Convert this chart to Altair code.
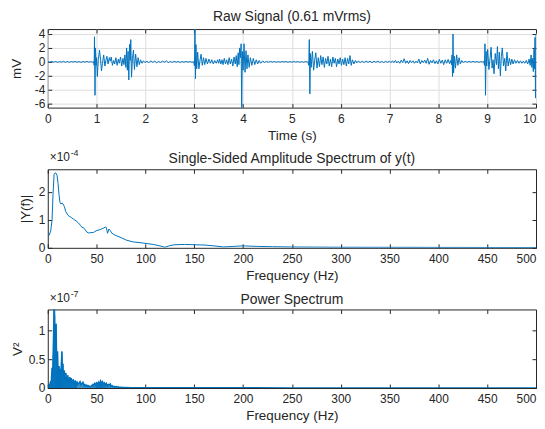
import altair as alt
import pandas as pd

BLUE = "#0072BD"
INK = "#262626"
GRID = "#dedede"
FONT = "Liberation Sans"
W = 491
H = 79

# ---------------- raw signal (time s, mV) ----------------
quiet_a = [(0.00, 0.04), (0.04, -0.05), (0.08, 0.06), (0.12, -0.03), (0.16, 0.05), (0.20, -0.06),
           (0.24, 0.03), (0.28, -0.04), (0.32, 0.07), (0.36, -0.05), (0.40, 0.04), (0.44, -0.06),
           (0.48, 0.05), (0.52, -0.03), (0.56, 0.06), (0.60, -0.05), (0.64, 0.04), (0.68, -0.07),
           (0.72, 0.05), (0.76, -0.04), (0.80, 0.06), (0.84, -0.05), (0.88, 0.03), (0.92, -0.04)]
burst_1 = [(0.94, 0.05), (0.95, -0.5), (0.957, 3.6), (0.967, -4.8), (0.977, 2.0), (0.99, -0.5),
           (1.0, 0.6), (1.015, -2.1), (1.035, 0.3), (1.06, 1.7), (1.08, 0.4), (1.1, -1.3),
           (1.12, -0.2), (1.145, 1.0), (1.17, -0.6), (1.19, 0.2), (1.21, 0.8), (1.235, -0.3),
           (1.26, 0.6), (1.28, 0.1), (1.3, 0.7), (1.325, -0.5), (1.35, 0.2), (1.37, -0.3),
           (1.395, 0.6), (1.42, -0.5), (1.445, 0.4), (1.465, -0.2), (1.49, 0.7), (1.515, -0.6),
           (1.54, 0.5), (1.56, -0.4), (1.58, 1.0), (1.6, -0.8), (1.615, 2.0), (1.63, -1.2),
           (1.645, 1.5), (1.66, -2.6), (1.675, 2.5), (1.69, 0.2), (1.7, 3.2), (1.715, -2.2),
           (1.735, 0.5), (1.755, 1.7), (1.775, -1.1), (1.8, 1.1), (1.825, -0.7), (1.85, 0.6),
           (1.875, -0.4), (1.9, 0.3), (1.93, -0.2), (1.96, 0.15), (1.99, -0.1)]
quiet_b = [(2.03, 0.08), (2.07, -0.1), (2.11, 0.12), (2.15, -0.06), (2.19, 0.1), (2.23, -0.12),
           (2.27, 0.06), (2.31, -0.08), (2.35, 0.1), (2.39, -0.05), (2.43, 0.14), (2.47, -0.1),
           (2.51, 0.05), (2.55, -0.07), (2.59, 0.08), (2.63, -0.05), (2.67, 0.06), (2.71, -0.08),
           (2.75, 0.04), (2.79, -0.05), (2.83, 0.06), (2.87, -0.04), (2.91, 0.05), (2.95, -0.06)]
burst_2 = [(2.99, 0.02), (3.005, -0.6), (3.015, 4.9), (3.025, -2.4), (3.035, 2.5), (3.05, -1.0),
           (3.07, 1.4), (3.095, -1.0), (3.12, 0.3), (3.14, 1.1), (3.165, -0.5), (3.19, 0.6),
           (3.215, -0.4), (3.24, 0.5), (3.27, -0.3), (3.3, 0.4), (3.33, -0.2), (3.36, 0.3),
           (3.39, -0.3), (3.42, 0.2), (3.45, -0.2), (3.48, 0.3), (3.5, -0.2), (3.52, 0.4),
           (3.545, -0.3), (3.57, 0.3), (3.59, -0.4), (3.615, 0.5), (3.64, -0.3), (3.665, 0.3),
           (3.69, -0.4), (3.715, 0.6), (3.74, -0.3), (3.765, 0.4), (3.79, -0.6), (3.815, 0.7),
           (3.84, -0.3), (3.86, 0.9), (3.88, -0.7), (3.9, 1.3), (3.915, -0.4), (3.93, 2.0),
           (3.945, 0.6), (3.96, 2.6), (3.972, -6.8), (3.985, 1.5), (4.0, -1.2), (4.02, 2.6),
           (4.04, -1.5), (4.06, 1.6), (4.08, -1.0), (4.1, 1.0), (4.125, -0.8), (4.15, 0.6),
           (4.18, -0.5), (4.21, 0.5), (4.24, -0.4), (4.27, 0.3), (4.3, -0.3), (4.33, 0.2),
           (4.36, -0.2), (4.4, 0.12), (4.44, -0.08)]
quiet_c = [(4.48, 0.06), (4.52, -0.05), (4.56, 0.07), (4.60, -0.04), (4.64, 0.05), (4.68, -0.06),
           (4.72, 0.04), (4.76, -0.05), (4.80, 0.06), (4.84, -0.03), (4.88, 0.05), (4.92, -0.06),
           (4.96, 0.04), (5.00, -0.05), (5.04, 0.06), (5.08, -0.04), (5.12, 0.05), (5.16, -0.06),
           (5.20, 0.03), (5.24, -0.05), (5.28, 0.04), (5.32, -0.03)]
burst_3 = [(5.33, 0.02), (5.345, -0.5), (5.357, 3.2), (5.368, -4.6), (5.38, 1.2), (5.395, -0.8),
           (5.42, 1.5), (5.445, -1.2), (5.47, 0.4), (5.49, 1.3), (5.515, -0.9), (5.54, 0.6),
           (5.565, -0.7), (5.59, 0.9), (5.615, -0.4), (5.64, 0.7), (5.665, -0.8), (5.69, 0.5),
           (5.715, -0.3), (5.74, 0.8), (5.765, -0.6), (5.79, 0.4), (5.815, -0.7), (5.84, 0.7),
           (5.865, -0.2), (5.89, 0.5), (5.915, -0.7), (5.94, 0.4), (5.965, -0.3), (5.99, 0.6),
           (6.015, -0.5), (6.04, 0.4), (6.065, -0.4), (6.09, 0.6), (6.115, -0.6), (6.14, 0.5),
           (6.165, -0.3), (6.19, 0.9), (6.215, -0.5), (6.24, 0.3), (6.27, -0.3), (6.3, 0.2),
           (6.33, -0.15), (6.36, 0.12), (6.4, -0.1)]
quiet_d = [(6.44, 0.08), (6.48, -0.1), (6.52, 0.12), (6.56, -0.08), (6.60, 0.1), (6.64, -0.12),
           (6.68, 0.08), (6.72, -0.06), (6.76, 0.1), (6.80, -0.08), (6.84, 0.06), (6.88, -0.1),
           (6.92, 0.08), (6.96, -0.06), (7.00, 0.1), (7.03, -0.12), (7.06, 0.15), (7.09, -0.1),
           (7.12, 0.2), (7.15, -0.15), (7.18, 0.1), (7.21, -0.2), (7.24, 0.25), (7.27, -0.1),
           (7.30, 0.45), (7.33, -0.2), (7.36, 0.15), (7.39, -0.25), (7.42, 0.2), (7.45, -0.1),
           (7.48, 0.15), (7.51, -0.2), (7.54, 0.1), (7.57, -0.15), (7.60, 0.4), (7.63, -0.3),
           (7.66, 0.2), (7.69, -0.1), (7.72, 0.25), (7.75, -0.2), (7.78, 0.5), (7.81, -0.35),
           (7.84, 0.2), (7.87, -0.15), (7.90, 0.3), (7.93, -0.25), (7.96, 0.15), (7.99, -0.3),
           (8.02, 0.35), (8.05, -0.2), (8.08, 0.25), (8.11, -0.4), (8.14, 0.3), (8.17, -0.2),
           (8.20, 0.35), (8.23, -0.25)]
burst_4 = [(8.25, 0.2), (8.27, -0.4), (8.28, 1.0), (8.29, -2.1), (8.3, 4.0), (8.312, -1.6),
           (8.33, 0.8), (8.35, -0.9), (8.375, 1.0), (8.4, -0.5), (8.425, 0.6), (8.45, -0.3),
           (8.48, 0.2), (8.51, -0.1)]
quiet_e = [(8.55, 0.08), (8.59, -0.06), (8.63, 0.07), (8.67, -0.05), (8.71, 0.06), (8.75, -0.04),
           (8.79, 0.05), (8.83, -0.06), (8.87, 0.04), (8.91, -0.03)]
burst_5 = [(8.93, 0.05), (8.945, -0.5), (8.955, 2.6), (8.966, -4.8), (8.978, 1.5), (8.99, -0.6),
           (9.01, 1.8), (9.035, -1.1), (9.06, 0.6), (9.08, 2.1), (9.1, -0.9), (9.12, 0.3),
           (9.14, -1.7), (9.165, 1.2), (9.19, -0.4), (9.21, 2.2), (9.23, -1.0), (9.25, 1.4),
           (9.27, -2.0), (9.29, 0.8), (9.31, 2.0), (9.335, -0.6), (9.36, 0.5), (9.38, -1.3),
           (9.405, 1.4), (9.43, -0.6), (9.455, 0.5), (9.48, -0.4), (9.505, 0.4), (9.53, -0.3),
           (9.56, 0.3), (9.59, -0.2), (9.62, 0.2), (9.65, -0.2), (9.68, 0.15), (9.71, -0.2),
           (9.74, 0.1), (9.77, -0.2), (9.8, 0.2), (9.83, -0.3), (9.86, 0.4), (9.88, -0.5),
           (9.9, 1.0), (9.915, -0.8), (9.93, 0.5), (9.945, -1.4), (9.96, 1.8), (9.97, -1.0),
           (9.98, 3.5), (9.99, -5.2), (10.0, 4.0)]

raw_segments = [quiet_a, burst_1, quiet_b, burst_2, quiet_c, burst_3, quiet_d, burst_4, quiet_e, burst_5]
raw_time_s = [p[0] for seg in raw_segments for p in seg]
raw_mv = [p[1] for seg in raw_segments for p in seg]

# ---------------- single-sided amplitude spectrum (x1e-4) ----------------
amp_freq_hz = [0, 1.5, 3, 4.4, 5.4, 6.5, 7.5, 8.5, 9.5, 10.5,
               11.5, 12.5, 13.6, 14.5, 15.7, 17, 18.4, 20, 21.4, 24,
               26.5, 29, 31.6, 33.5, 35, 36.5, 38.4, 40, 41.8, 44,
               46.9, 50.3, 53, 55.4, 57, 58.8, 60, 61.2, 62.6, 63.9,
               65.6, 69, 74, 80.8, 87.6, 97.8, 108, 114.8, 120, 125,
               130, 140, 150, 160, 170, 180, 190, 200, 215, 230,
               250, 275, 300, 350, 400, 450, 500]
amp_e4 = [0.40, 0.45, 0.6, 1.0, 1.93, 2.62, 2.67, 2.66, 2.58, 2.3,
          1.9, 1.62, 1.56, 1.6, 1.56, 1.47, 1.29, 1.2, 1.14, 1.08,
          1.02, 0.96, 0.88, 0.8, 0.73, 0.72, 0.64, 0.56, 0.53, 0.54,
          0.55, 0.62, 0.64, 0.68, 0.7, 0.74, 0.72, 0.52, 0.67, 0.62,
          0.52, 0.45, 0.38, 0.27, 0.21, 0.17, 0.12, 0.07, 0.02, 0.08,
          0.11, 0.12, 0.11, 0.1, 0.07, 0.03, 0.05, 0.07, 0.05, 0.04,
          0.03, 0.025, 0.02, 0.018, 0.015, 0.012, 0.01]

# ---------------- power spectrum (x1e-7 V^2) ----------------
pow_freq_hz = [1.0, 1.5, 2.0, 2.5, 3.0, 3.5, 4.0, 4.5, 5.0, 5.5, 6.0, 6.5, 7.0, 7.5, 8.0, 8.5,
               9.0, 9.5, 10.0, 10.5, 11.0, 11.5, 12.0, 12.5, 13.0, 13.5, 14.0, 14.5, 15.0, 15.5,
               16.0, 16.5, 17.0, 17.5, 18.0, 18.5, 19.0, 19.5, 20.0, 20.5, 21.0, 21.5, 22.0, 22.5,
               23.0, 23.5, 24.0, 24.5, 25.0, 25.5, 26.0, 26.5, 27.0, 27.5, 28.0, 28.5, 29.0, 29.5,
               30.0, 31, 32, 33, 34, 35, 36, 37, 38, 39, 40, 41, 42, 43, 44, 45, 46, 47, 48, 49,
               50, 51, 52, 53, 54, 55, 56, 57, 58, 59, 60, 61, 62, 63, 64, 65, 66, 67, 68, 69,
               70, 71, 72, 73, 74, 75, 76, 77, 78, 79, 80, 85, 90, 95, 100, 120, 150, 200, 250,
               300, 400, 500]
pow_e7 = [0.02, 0.04, 0.03, 0.08, 0.12, 0.06, 0.22, 0.35, 0.18, 0.57, 0.95, 1.5, 1.25, 0.7, 0.86, 1.11,
          0.55, 0.4, 0.63, 0.3, 0.22, 0.38, 0.18, 0.27, 0.33, 0.2, 0.45, 0.63, 0.25, 0.42,
          0.15, 0.22, 0.3, 0.12, 0.2, 0.26, 0.1, 0.18, 0.14, 0.22, 0.09, 0.16, 0.12, 0.19,
          0.08, 0.14, 0.17, 0.07, 0.13, 0.1, 0.15, 0.06, 0.12, 0.09, 0.13, 0.05, 0.11, 0.08,
          0.1, 0.06, 0.09, 0.11, 0.05, 0.08, 0.1, 0.04, 0.06, 0.03, 0.05, 0.03, 0.04, 0.02, 0.03, 0.04, 0.06, 0.05, 0.08, 0.06,
          0.09, 0.07, 0.1, 0.06, 0.12, 0.08, 0.11, 0.07, 0.09, 0.05, 0.08, 0.04, 0.06, 0.05, 0.07, 0.03, 0.04, 0.02, 0.03, 0.02,
          0.025, 0.015, 0.02, 0.01, 0.015, 0.01, 0.012, 0.008, 0.01, 0.006, 0.008, 0.006, 0.005, 0.006, 0.004, 0.004, 0.003, 0.003, 0.002,
          0.002, 0.002, 0.002]

raw_df = pd.DataFrame({"t": raw_time_s, "v": raw_mv})
amp_df = pd.DataFrame({"f": amp_freq_hz, "a": amp_e4})
pow_df = pd.DataFrame({"f": pow_freq_hz, "p": pow_e7})
one_row = pd.DataFrame({"k": [0]})


def make_panel(df, xf, yf, xdom, ydom, xticks, yticks, xtitle, ytitle, ytitle_pad,
               title, title_offset, grid, data_layers, exponent=None):
    xs = alt.Scale(domain=xdom, nice=False, zero=False)
    ys = alt.Scale(domain=ydom, nice=False, zero=False)
    lab = dict(labelFont=FONT, labelFontSize=12, labelColor=INK, titleFont=FONT,
               titleFontSize=13.5, titleFontWeight="normal", titleColor=INK,
               tickColor=INK, tickSize=4, offset=-4, domain=False,
               labelExpr="datum.value + ''")
    last = xticks[-1]
    ax_bottom = alt.Axis(orient="bottom", values=xticks, title=xtitle, grid=False,
                         labelPadding=6, titlePadding=4,
                         labelAlign={"condition": {"test": f"datum.value == {last}", "value": "right"},
                                     "value": "center"},
                         **lab)
    ax_left = alt.Axis(orient="left", values=yticks, title=ytitle, grid=False,
                       labelPadding=3, titlePadding=ytitle_pad, **lab)
    ax_top = alt.Axis(orient="top", values=xticks, title=None, labels=False, grid=grid,
                      gridColor=GRID, tickColor=INK, tickSize=4, offset=-4, domain=False)
    ax_right = alt.Axis(orient="right", values=yticks, title=None, labels=False, grid=grid,
                        gridColor=GRID, tickColor=INK, tickSize=4, offset=-4, domain=False)

    helper = alt.Chart(df).mark_point(opacity=0, clip=True).encode(
        x=alt.X(f"{xf}:Q", scale=xs, axis=ax_top),
        y=alt.Y(f"{yf}:Q", scale=ys, axis=ax_right),
    )
    layers = [helper]
    for i, (mk, extra) in enumerate(data_layers):
        enc = dict(
            x=alt.X(f"{xf}:Q", scale=xs, axis=ax_bottom if i == 0 else None),
            y=alt.Y(f"{yf}:Q", scale=ys, axis=ax_left if i == 0 else None),
        )
        enc.update(extra)
        layers.append(mk.encode(**enc))
    if exponent:
        layers.append(alt.Chart(one_row).mark_text(font=FONT, fontSize=12, color=INK, align="left",
                                                  baseline="middle").encode(
            x=alt.value(2), y=alt.value(-12), text=alt.value("×10")))
        layers.append(alt.Chart(one_row).mark_text(font=FONT, fontSize=9, color=INK, align="left",
                                                  baseline="middle").encode(
            x=alt.value(23), y=alt.value(-16), text=alt.value(exponent)))
    return alt.layer(*layers).resolve_axis(x="independent", y="independent").properties(
        width=W, height=H,
        title=alt.TitleParams(title, font=FONT, fontSize=14, fontWeight="normal", color=INK,
                              anchor="middle", frame="group", offset=title_offset),
    )


p1 = make_panel(
    raw_df, "t", "v", [0, 10], [-6.57, 4.71], list(range(0, 11)), [-6, -4, -2, 0, 2, 4],
    "Time (s)", "mV", 10.5, "Raw Signal (0.61 mVrms)", 4, True,
    [(alt.Chart(raw_df).mark_line(color=BLUE, strokeWidth=1, clip=True), {})],
)

p2 = make_panel(
    amp_df, "f", "a", [0, 500], [0, 2.8], list(range(0, 501, 50)), [0, 1, 2],
    "Frequency (Hz)", "|Y(f)|", 5.5, "Single-Sided Amplitude Spectrum of y(t)", -17, False,
    [(alt.Chart(amp_df).mark_line(color=BLUE, strokeWidth=1, clip=True), {})],
    exponent="-4",
)

p3 = make_panel(
    pow_df, "f", "p", [0, 500], [0, 1.356], list(range(0, 501, 50)), [0, 0.5, 1],
    "Frequency (Hz)", "V²", 4, "Power Spectrum", -17, False,
    [
        (alt.Chart(pow_df).mark_rule(color=BLUE, strokeWidth=1, clip=True),
         {"y2": alt.datum(0)}),
        (alt.Chart(pow_df).mark_line(color=BLUE, strokeWidth=1.5, clip=True), {}),
    ],
    exponent="-7",
)

chart = alt.vconcat(p1, p2, p3, spacing=6).properties(
    padding={"left": 1, "top": 0, "right": 0, "bottom": 0},
    background="white",
).configure_view(stroke=INK, strokeWidth=1)

chart.save("out.html", embed_options={"renderer": "svg", "actions": False})
